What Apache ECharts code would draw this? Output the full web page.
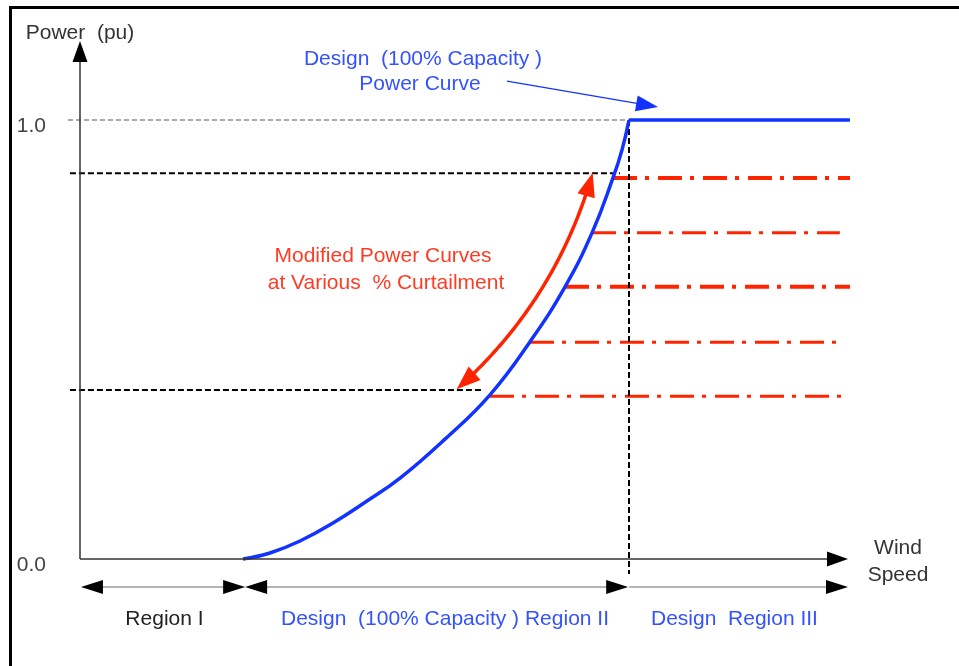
<!DOCTYPE html>
<html><head><meta charset="utf-8">
<script src="https://cdn.jsdelivr.net/npm/echarts@6/dist/echarts.min.js"></script>
<style>html,body{margin:0;padding:0;background:#fff}#c{width:959px;height:666px}</style>
</head><body><div id="c"></div>
<script>
// ---------------- data ----------------
const xAxisNameLines = ['Wind', 'Speed'];
const yAxisName = 'Power  (pu)';
const yTickValues = [0, 1];
const yTickLabels = ['0.0', '1.0'];

// design (100% capacity) power curve, region II
const designCurveX = [3.396, 3.958, 4.583, 5.271, 5.979, 6.667, 7.604, 8.542, 9.375, 10.104, 10.667, 11.104, 11.292, 11.4375];
const designCurveY = [0.000, 0.0137, 0.041, 0.082, 0.132, 0.184, 0.273, 0.374, 0.495, 0.620, 0.743, 0.868, 0.932, 1.000];
// region III flat part
const ratedX = 11.4375;
const ratedPower = 1.0;
const designFlatEndX = 16.04;

// modified (curtailed) power curves
const curtailLevels = [0.868, 0.743, 0.620, 0.494, 0.371];
const curtailStartX = [11.104, 10.667, 10.104, 9.375, 8.542];
const curtailEndX = [16.06, 15.83, 16.06, 15.79, 15.875];

// horizontal guide lines
const guideY = [1.0, 0.879, 0.385];
const guideStartX = [-0.25, -0.21, -0.21];
const guideEndX = [11.44, 11.25, 8.4];
// vertical guide at rated wind speed
const ratedGuideY = [1.0, -0.034];

// axes arrows [x1, y1, x2, y2, headStart, headEnd]
const axisArrows = [[0, 0, 16, 0, 0, 1], [0, 0, 0, 1.18, 0, 1]];

// regions below the axis
const regionNames = ['Region I', 'Design  (100% Capacity ) Region II', 'Design  Region III'];
const regionStartX = [0.02, 3.44, 11.44];
const regionEndX = [3.44, 11.42, 16.0];
const regionHeadStart = [1, 1, 0];
const regionHeadEnd = [1, 1, 1];
const regionArrowY = -0.064;
const regionLabelX = [1.76, 7.604, 13.635];
const regionLabelY = -0.1365;

// annotations
const designNote = ['Design  (100% Capacity )', 'Power Curve'];
const designNoteX = [7.146, 7.083];
const designNoteY = [1.139, 1.082];
const designArrow = [8.896, 1.0888, 12.042, 1.0296];

const curtailNote = ['Modified Power Curves', 'at Various  % Curtailment'];
const curtailNoteX = [6.3125, 6.375];
const curtailNoteY = [0.6905, 0.629];
const curtailArrow = [7.848, 0.3866, 10.681, 0.880];

// ---------------- styles ----------------
const FONT = '"Liberation Sans", Arial, Helvetica, sans-serif';
const FS = 21;
const BLUE = '#1233ff';
const BLUE_TXT = '#3552ff';
const RED = '#ff2400';
const RED_TXT = '#ff3b24';
const curtailWidths = [4, 3, 4, 3, 3];
const guideStyles = [
  {color: '#555', width: 1.2, dash: [5, 3]},
  {color: '#000', width: 2, dash: [6, 3]},
  {color: '#000', width: 2, dash: [6, 3]}
];

function straightArrow(o) {
  return function (params, api) {
    const a = api.coord([api.value(0), api.value(1)]);
    const b = api.coord([api.value(2), api.value(3)]);
    const hs = api.value(4), he = api.value(5);
    const dx = b[0] - a[0], dy = b[1] - a[1];
    const len = Math.hypot(dx, dy) || 1;
    const ux = dx / len, uy = dy / len, nx = -uy, ny = ux;
    const L = o.headLen, W = o.headWidth / 2;
    const s = hs ? [a[0] + ux * L * 0.7, a[1] + uy * L * 0.7] : a;
    const e = he ? [b[0] - ux * L * 0.7, b[1] - uy * L * 0.7] : b;
    const children = [{type: 'line', shape: {x1: s[0], y1: s[1], x2: e[0], y2: e[1]},
      style: {stroke: o.lineColor, lineWidth: o.lineWidth}}];
    function head(t, d) {
      const bx = t[0] - d[0] * L, by = t[1] - d[1] * L;
      return {type: 'polygon', shape: {points: [[t[0], t[1]], [bx + nx * W, by + ny * W], [bx - nx * W, by - ny * W]]},
        style: {fill: o.headColor}};
    }
    if (hs) children.push(head(a, [-ux, -uy]));
    if (he) children.push(head(b, [ux, uy]));
    return {type: 'group', children: children};
  };
}

function curvedArrow(o) {
  return function (params, api) {
    const a = api.coord([api.value(0), api.value(1)]);
    const b = api.coord([api.value(2), api.value(3)]);
    const dx = b[0] - a[0], dy = b[1] - a[1];
    const cp = [(a[0] + b[0]) / 2 - dy * o.bend, (a[1] + b[1]) / 2 + dx * o.bend];
    const L = o.headLen, W = o.headWidth / 2;
    const pts = [];
    for (let i = 0; i <= 80; i++) {
      const t = i / 80, m = 1 - t;
      const p = [m * m * a[0] + 2 * m * t * cp[0] + t * t * b[0], m * m * a[1] + 2 * m * t * cp[1] + t * t * b[1]];
      if (Math.hypot(p[0] - a[0], p[1] - a[1]) > L * 0.7 && Math.hypot(p[0] - b[0], p[1] - b[1]) > L * 0.7) pts.push(p);
    }
    function head(t, from) {
      let ux = t[0] - from[0], uy = t[1] - from[1];
      const l = Math.hypot(ux, uy) || 1; ux /= l; uy /= l;
      const nx = -uy, ny = ux;
      const bx = t[0] - ux * L, by = t[1] - uy * L;
      return {type: 'polygon', shape: {points: [[t[0], t[1]], [bx + nx * W, by + ny * W], [bx - nx * W, by - ny * W]]},
        style: {fill: o.color}};
    }
    return {type: 'group', children: [
      {type: 'polyline', shape: {points: pts}, style: {stroke: o.color, lineWidth: o.lineWidth, fill: null}},
      head(a, cp), head(b, cp)
    ]};
  };
}

function dashedSegment(params, api) {
  const a = api.coord([api.value(0), api.value(1)]);
  const b = api.coord([api.value(2), api.value(3)]);
  const s = guideStyles[api.value(4)] || guideStyles[1];
  return {type: 'line', shape: {x1: a[0], y1: a[1], x2: b[0], y2: b[1]},
    style: {stroke: s.color, lineWidth: s.width, lineDash: s.dash}};
}

function textSeries(texts, xs, ys, color) {
  return {
    type: 'custom', coordinateSystem: 'cartesian2d', silent: true, z: 10,
    data: texts.map((t, i) => [xs[i], ys[i], i]),
    renderItem: function (params, api) {
      const p = api.coord([api.value(0), api.value(1)]);
      return {type: 'text', x: p[0], y: p[1], style: {
        text: texts[api.value(2)], fill: color, font: FS + 'px ' + FONT,
        align: 'center', verticalAlign: 'middle', textAlign: 'center', textVerticalAlign: 'middle'}};
    }
  };
}

const series = [];
// curtailed power curves
curtailLevels.forEach((y, i) => {
  series.push({type: 'line', showSymbol: false, silent: true, clip: false, z: 2,
    data: [[curtailStartX[i], y], [curtailEndX[i], y]],
    lineStyle: {color: RED, width: curtailWidths[i], type: [24, 8, 4, 9], cap: 'butt'}});
});
// guides (horizontal + vertical at rated speed)
const guideData = guideY.map((y, i) => [guideStartX[i], y, guideEndX[i], y, i]);
guideData.push([ratedX, ratedGuideY[0], ratedX, ratedGuideY[1], 1]);
series.push({type: 'custom', coordinateSystem: 'cartesian2d', silent: true, z: 3,
  data: guideData, renderItem: dashedSegment});
// design curve
series.push({type: 'line', showSymbol: false, silent: true, clip: false, z: 4, smooth: 0.45,
  data: designCurveX.map((x, i) => [x, designCurveY[i]]),
  lineStyle: {color: BLUE, width: 3.5}});
series.push({type: 'line', showSymbol: false, silent: true, clip: false, z: 4,
  data: [[ratedX, ratedPower], [designFlatEndX, ratedPower]],
  lineStyle: {color: BLUE, width: 3.5}});
// axes arrows
series.push({type: 'custom', coordinateSystem: 'cartesian2d', silent: true, z: 5,
  data: axisArrows,
  renderItem: straightArrow({headLen: 21, headWidth: 15, lineColor: '#333', lineWidth: 1.5, headColor: '#000'})});
// region arrows
series.push({type: 'custom', coordinateSystem: 'cartesian2d', silent: true, z: 5,
  data: regionNames.map((n, i) => [regionStartX[i], regionArrowY, regionEndX[i], regionArrowY, regionHeadStart[i], regionHeadEnd[i]]),
  renderItem: straightArrow({headLen: 22, headWidth: 14, lineColor: '#b4b4b4', lineWidth: 2, headColor: '#000'})});
// design annotation arrow
series.push({type: 'custom', coordinateSystem: 'cartesian2d', silent: true, z: 5,
  data: [[designArrow[0], designArrow[1], designArrow[2], designArrow[3], 0, 1]],
  renderItem: straightArrow({headLen: 22, headWidth: 16, lineColor: BLUE, lineWidth: 1.2, headColor: BLUE})});
// curtailment double arrow
series.push({type: 'custom', coordinateSystem: 'cartesian2d', silent: true, z: 5,
  data: [curtailArrow],
  renderItem: curvedArrow({bend: 0.145, headLen: 24, headWidth: 18, color: RED, lineWidth: 3.5})});
// texts
series.push(textSeries(designNote, designNoteX, designNoteY, BLUE_TXT));
series.push(textSeries(curtailNote, curtailNoteX, curtailNoteY, RED_TXT));
series.push(textSeries([regionNames[0]], [regionLabelX[0]], [regionLabelY], '#222'));
series.push(textSeries(regionNames.slice(1), regionLabelX.slice(1), [regionLabelY, regionLabelY], BLUE_TXT));

const chart = echarts.init(document.getElementById('c'), null, {renderer: 'canvas'});
chart.setOption({
  animation: false,
  backgroundColor: '#fff',
  textStyle: {fontFamily: FONT},
  graphic: [{type: 'rect', shape: {x: 10.5, y: 7.5, width: 980, height: 700},
    style: {fill: 'none', stroke: '#000', lineWidth: 3}, z: 100}],
  grid: {left: 80, right: 111, top: 41, bottom: 107},
  xAxis: {type: 'value', min: 0, max: 16,
    axisLine: {show: false}, axisTick: {show: false}, axisLabel: {show: false}, splitLine: {show: false},
    name: '{t|' + xAxisNameLines[0] + '}\n{s|' + xAxisNameLines[1] + '}', nameLocation: 'end', nameGap: 50,
    nameTextStyle: {fontSize: FS, color: '#333', align: 'center', fontFamily: FONT,
      rich: {t: {fontSize: FS, color: '#333', fontFamily: FONT, lineHeight: 33, align: 'center'},
             s: {fontSize: FS, color: '#333', fontFamily: FONT, lineHeight: 21, align: 'center'}}}},
  yAxis: {type: 'value', min: 0, max: 1.18, interval: 1,
    axisLine: {show: false}, axisTick: {show: false}, splitLine: {show: false},
    axisLabel: {show: true, margin: 34, fontSize: FS, color: '#444', fontFamily: FONT,
      verticalAlign: 'top', lineHeight: 12,
      formatter: v => { const k = yTickValues.indexOf(v); return k >= 0 ? yTickLabels[k] : ''; }},
    name: yAxisName, nameLocation: 'end', nameGap: -3,
    nameTextStyle: {fontSize: FS, color: '#333', fontFamily: FONT}},
  series: series
});
</script></body></html>
